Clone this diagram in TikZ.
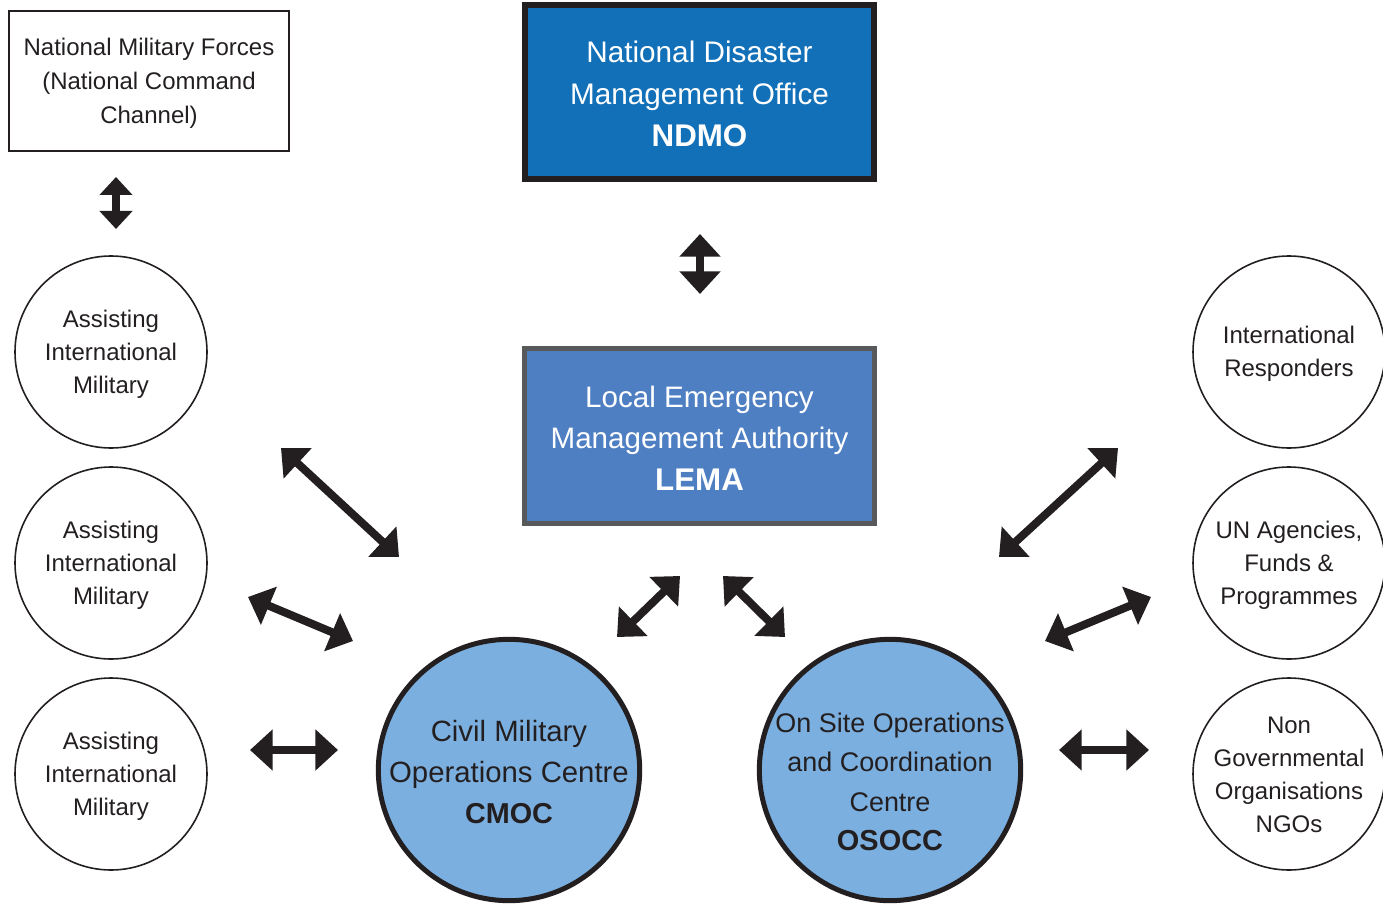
\documentclass[tikz,border=0pt]{standalone}
\usepackage{fontspec}
\setmainfont{Liberation Sans}
\usetikzlibrary{arrows.meta}
\definecolor{ndmoblue}{HTML}{1270B8}
\definecolor{lemablue}{HTML}{4F7FC3}
\definecolor{cblue}{HTML}{7BAFDF}
\definecolor{dk}{HTML}{231F20}
\definecolor{lemaedge}{HTML}{58595B}
\begin{document}
\begin{tikzpicture}[x=0.75pt,y=-0.75pt,
  smallcirc/.style={circle, draw=dk, line width=1.2pt, minimum size=144pt, inner sep=0pt},
  smalltxt/.style={align=center, text=dk, inner sep=0pt, font=\fontsize{18}{24.75}\selectfont},
  bigcirc/.style={circle, draw=dk, fill=cblue, line width=3.75pt, minimum size=196pt, inner sep=0pt},
  bigtxt/.style={align=center, text=dk, inner sep=0pt},
  dbl/.style={line width=6pt, draw=dk, {Triangle[width=30pt,length=17pt]}-{Triangle[width=30pt,length=17pt]}},
  smalldbl/.style={line width=6pt, draw=dk, {Triangle[width=24pt,length=13.5pt]}-{Triangle[width=24pt,length=13.5pt]}},
]
\useasboundingbox (0,0) rectangle (1383,909);

% top-left box
\node[draw=dk, line width=1.5pt, minimum width=210pt, minimum height=105pt, inner sep=0pt] (nmf) at (149,81) {};
\node[align=center, text=dk, inner sep=0pt, font=\fontsize{18}{25.5}\selectfont] (nmftxt) at (149,83)
  {National Military Forces\\(National Command\\Channel)};

% NDMO
\node[draw=dk, fill=ndmoblue, line width=4.5pt, minimum width=261.75pt, minimum height=130.5pt, inner sep=0pt] (ndmo) at (699.5,92) {};
\node[align=center, text=white, inner sep=0pt, font=\fontsize{22.3}{31.5}\selectfont] (ndmotxt) at (699.5,94)
  {National Disaster\\Management Office\\{\fontsize{23.5}{31.5}\selectfont\bfseries NDMO}};

% LEMA
\node[draw=lemaedge, fill=lemablue, line width=3.75pt, minimum width=262.5pt, minimum height=131.25pt, inner sep=0pt] (lema) at (699.5,436) {};
\node[align=center, text=white, inner sep=0pt, font=\fontsize{22.2}{31}\selectfont] (lematxt) at (699.5,438)
  {Local Emergency\\Management Authority\\{\fontsize{23.5}{31}\selectfont\bfseries LEMA}};

% left circles
\node[smallcirc] (aim1) at (111,352) {};
\node[smalltxt] (aim1txt) at (111,354) {Assisting\\International\\Military};
\node[smallcirc] (aim2) at (111,563) {};
\node[smalltxt] (aim2txt) at (111,565) {Assisting\\International\\Military};
\node[smallcirc] (aim3) at (111,774) {};
\node[smalltxt] (aim3txt) at (111,776) {Assisting\\International\\Military};

% right circles
\node[smallcirc] (ir) at (1289,352) {};
\node[smalltxt] (irtxt) at (1289,354) {International\\Responders};
\node[smallcirc] (un) at (1289,563) {};
\node[smalltxt] (untxt) at (1289,565) {UN Agencies,\\Funds \&\\Programmes};
\node[smallcirc] (ngo) at (1289,774) {};
\node[smalltxt] (ngotxt) at (1289,775) {Non\\Governmental\\Organisations\\NGOs};

% big circles
\node[bigcirc] (cmoc) at (509,770) {};
\node[bigtxt, font=\fontsize{22}{30.5}\selectfont] (cmoctxt) at (509,772)
  {Civil Military\\Operations Centre\\{\fontsize{21.6}{30.5}\selectfont\bfseries CMOC}};
\node[bigcirc] (osocc) at (890,770) {};
\node[bigtxt, font=\fontsize{20.2}{29.5}\selectfont] (osocctxt) at (890,782)
  {On Site Operations\\and Coordination\\Centre\\{\fontsize{21.7}{29.5}\selectfont\bfseries OSOCC}};

% arrow end points
\coordinate (t1) at (116,177);
\coordinate (t2) at (116,229);
\coordinate (n1) at (700,234);
\coordinate (n2) at (700,294);
\coordinate (a1s) at (281,448);
\coordinate (a1e) at (399,557);
\coordinate (a2s) at (248,597);
\coordinate (a2e) at (353,641);
\coordinate (a3s) at (250,750);
\coordinate (a3e) at (338,750);
\coordinate (a4s) at (617,637);
\coordinate (a4e) at (680,576);
\coordinate (a5s) at (723,576);
\coordinate (a5e) at (785,637);
\coordinate (a6s) at (1118,448);
\coordinate (a6e) at (999,557);
\coordinate (a7s) at (1045,641);
\coordinate (a7e) at (1151,597);
\coordinate (a8s) at (1059,750);
\coordinate (a8e) at (1149,750);

\draw[smalldbl] (t1) -- (t2);
\draw[dbl] (n1) -- (n2);
\draw[dbl] (a1s) -- (a1e);
\draw[dbl] (a2s) -- (a2e);
\draw[dbl] (a3s) -- (a3e);
\draw[dbl] (a4s) -- (a4e);
\draw[dbl] (a5s) -- (a5e);
\draw[dbl] (a6s) -- (a6e);
\draw[dbl] (a7s) -- (a7e);
\draw[dbl] (a8s) -- (a8e);
\end{tikzpicture}
\end{document}
